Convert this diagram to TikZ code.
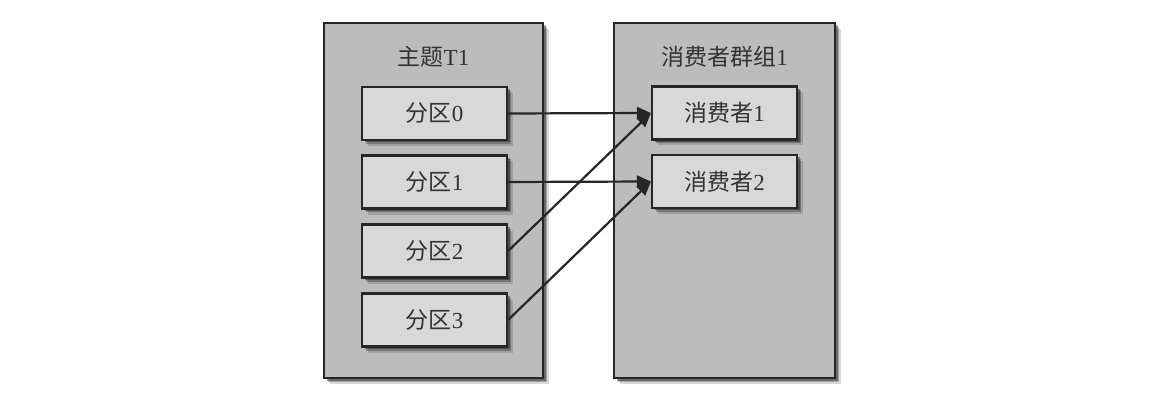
\documentclass[tikz,border=0pt]{standalone}
\usepackage{fontspec}
\setmainfont{Liberation Serif}
\newfontfamily\cjk{Noto Sans CJK SC}
\usetikzlibrary{arrows.meta}
\definecolor{outerfill}{HTML}{BCBCBC}
\definecolor{innerfill}{HTML}{D8D8D8}
\definecolor{edge}{HTML}{262626}
\tikzset{
  softshadow/.style={
    preaction={draw=none,fill=black,opacity=0.15,transform canvas={xshift=6pt,yshift=-6pt}},
    preaction={draw=none,fill=black,opacity=0.25,transform canvas={xshift=4pt,yshift=-4pt}},
    preaction={draw=none,fill=black,opacity=0.35,transform canvas={xshift=2.5pt,yshift=-2.5pt}}},
  outerbox/.style={draw=edge,line width=2.2pt,fill=outerfill,softshadow,
    minimum height=355pt,inner sep=0pt},
  innerbox/.style={draw=edge,line width=2.2pt,fill=innerfill,softshadow,
    minimum width=145pt,minimum height=53pt,inner sep=0pt,
    font=\fontsize{23}{26}\selectfont,text=black!80},
  title/.style={font=\fontsize{23}{26}\selectfont,text=black!80},
  conn/.style={draw=edge,line width=2.2pt,-{Triangle[length=14pt,width=12pt]}}
}
\begin{document}
\begin{tikzpicture}[x=1pt,y=-1pt]
\useasboundingbox (0,0) rectangle (1172,406);
\node[outerbox,minimum width=219pt] (topic) at (433.5,200.5) {};
\node[outerbox,minimum width=221pt] (group) at (724.5,200.5) {};
\node[title] (tt) at (433.5,57) {{\cjk 主题}T1};
\node[title] (gt) at (724.5,57) {{\cjk 消费者群组}1};
\node[innerbox] (p0) at (434.5,113.5) {{\cjk 分区}0};
\node[innerbox] (p1) at (434.5,182) {{\cjk 分区}1};
\node[innerbox] (p2) at (434.5,251) {{\cjk 分区}2};
\node[innerbox] (p3) at (434.5,320) {{\cjk 分区}3};
\node[innerbox] (c1) at (724.5,113) {{\cjk 消费者}1};
\node[innerbox] (c2) at (724.5,181.5) {{\cjk 消费者}2};
\draw[conn] (p0.east) -- (c1.west);
\draw[conn] (p2.east) -- (c1.west);
\draw[conn] (p1.east) -- (c2.west);
\draw[conn] (p3.east) -- (c2.west);
\end{tikzpicture}
\end{document}
